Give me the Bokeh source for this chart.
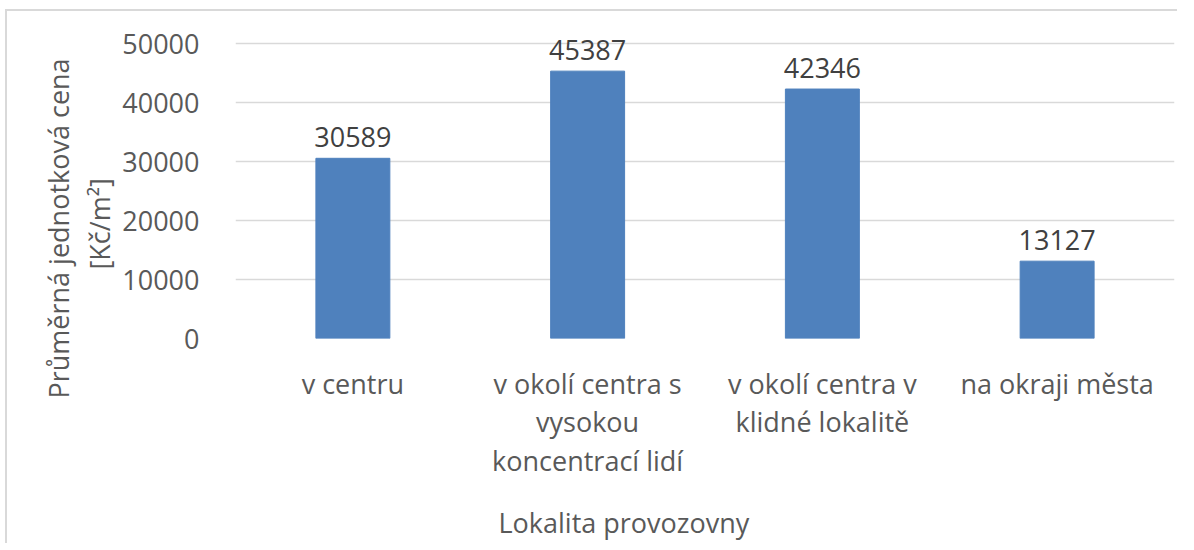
from bokeh.plotting import figure
from bokeh.models import FactorRange, Range1d, FixedTicker, ColumnDataSource, Title
from bokeh.core.properties import value
from bokeh.embed import file_html
from bokeh.resources import INLINE

categories = ["v centru",
              "v okolí centra s\nvysokou\nkoncentrací lidí",
              "v okolí centra v\nklidné lokalitě",
              "na okraji města"]
values = [30589, 45387, 42346, 13127]
y_ticks = [0, 10000, 20000, 30000, 40000, 50000]
y_title_lines = ["Průměrná jednotková cena", "[Kč/m²]"]
x_title = "Lokalita provozovny"

FONT = "Open Sans"
TICK_COLOR = "#595959"

src = ColumnDataSource(dict(cat=categories, val=values, lab=[str(v) for v in values]))

p = figure(width=1172, height=534, output_backend="svg", toolbar_location=None,
           x_range=FactorRange(factors=categories), y_range=Range1d(0, 55000),
           min_border_left=228, min_border_right=5, min_border_top=3, min_border_bottom=207,
           styles={"margin-left": "5px", "margin-top": "9px",
                   "border-left": "2px solid #d9d9d9", "border-top": "2px solid #d9d9d9"})
p.outline_line_color = None
p.background_fill_color = "white"
p.border_fill_color = "white"

p.vbar(x="cat", top="val", width=0.315, source=src, fill_color="#4F81BD", line_color="#4F81BD")
p.text(x="cat", y="val", text="lab", source=src, text_align="center", text_baseline="alphabetic",
       y_offset=-21, text_font=value(FONT), text_font_size="27px", text_color="#404040")

p.xgrid.grid_line_color = None
p.ygrid.grid_line_color = "#d9d9d9"
p.ygrid.grid_line_width = 1.5
p.ygrid.ticker = FixedTicker(ticks=y_ticks)

p.yaxis.ticker = FixedTicker(ticks=y_ticks)
p.yaxis.axis_line_color = None
p.yaxis.major_tick_line_color = None
p.yaxis.minor_tick_line_color = None
p.yaxis.major_label_standoff = 30
p.yaxis.major_label_text_font = FONT
p.yaxis.major_label_text_font_size = "27px"
p.yaxis.major_label_text_color = TICK_COLOR

p.xaxis.axis_line_color = None
p.xaxis.major_tick_line_color = None
p.xaxis.minor_tick_line_color = None
p.xaxis.major_label_standoff = 20
p.xaxis.major_label_text_font = FONT
p.xaxis.major_label_text_font_size = "27px"
p.xaxis.major_label_text_color = TICK_COLOR
p.xaxis.major_label_text_line_height = 1.05

# y-axis title: two lines, stacked outward from the axis
p.add_layout(Title(text=y_title_lines[1], align="left", offset=69, standoff=4,
                   text_font=FONT, text_font_size="27px", text_font_style="normal",
                   text_color=TICK_COLOR), "left")
p.add_layout(Title(text=y_title_lines[0], align="left", offset=-60, standoff=0,
                   text_font=FONT, text_font_size="27px", text_font_style="normal",
                   text_color=TICK_COLOR), "left")

# x-axis title (leading empty line acts as a compact spacer)
p.add_layout(Title(text="\n" + x_title, align="left", offset=263, standoff=0,
                   text_line_height=0.5,
                   text_font=FONT, text_font_size="27px", text_font_style="normal",
                   text_color=TICK_COLOR), "below")

open("out.html", "w").write(file_html(p, INLINE))
